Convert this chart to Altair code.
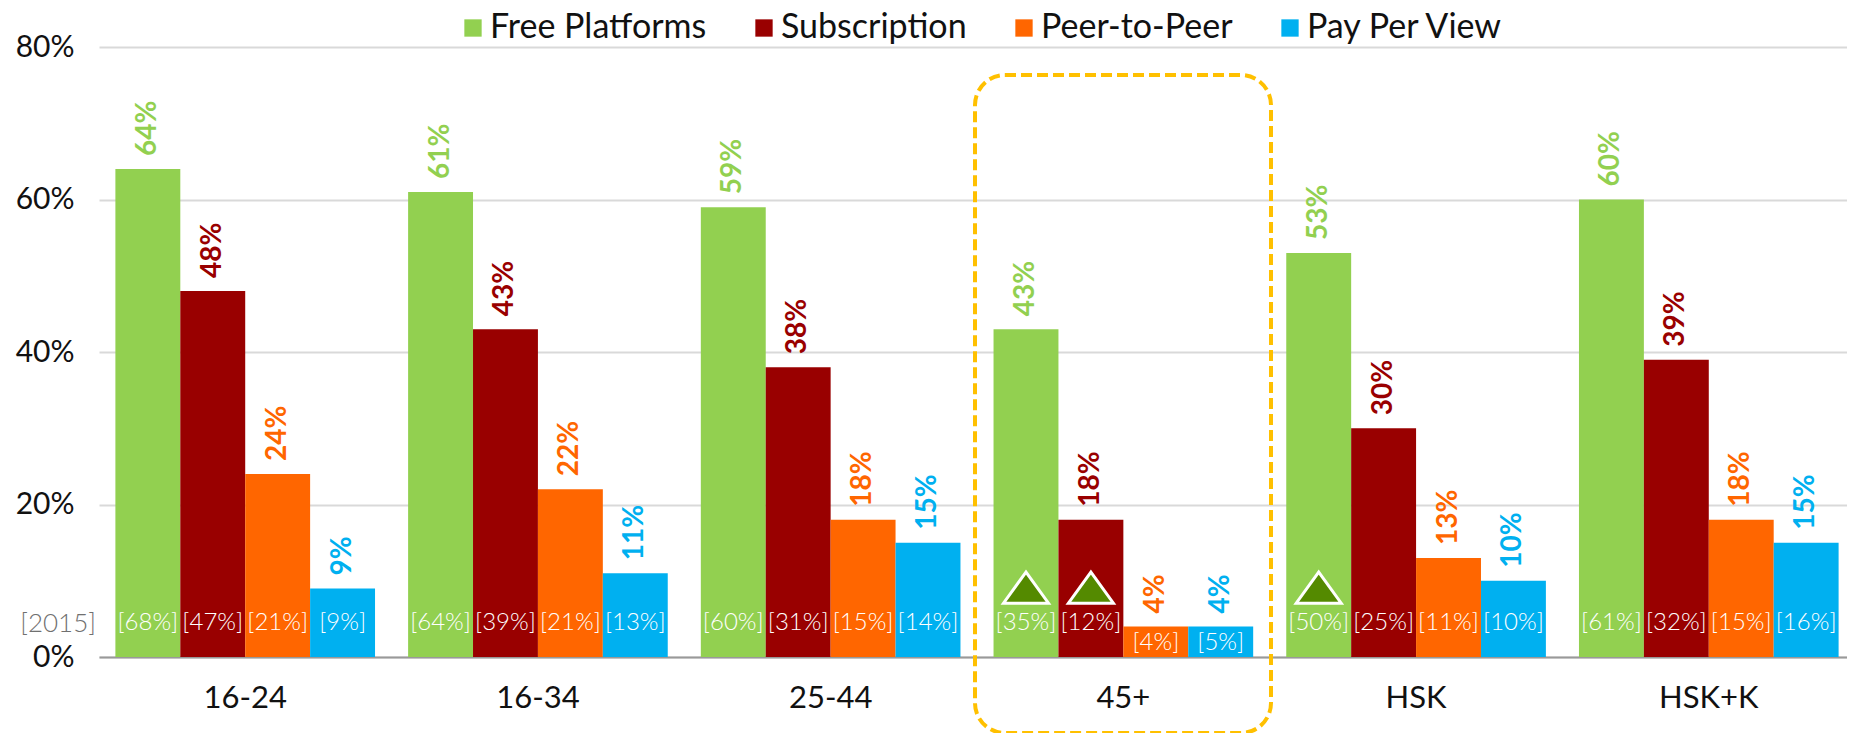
import altair as alt
import pandas as pd

groups = ["16-24", "16-34", "25-44", "45+", "HSK", "HSK+K"]
series = ["Free Platforms", "Subscription", "Peer-to-Peer", "Pay Per View"]
colors = ["#92D050", "#990000", "#FF6600", "#00B0F0"]
free_2016 = [64, 61, 59, 43, 53, 60]
sub_2016 = [48, 43, 38, 18, 30, 39]
p2p_2016 = [24, 22, 18, 4, 13, 18]
ppv_2016 = [9, 11, 15, 4, 10, 15]
free_2015 = [68, 64, 60, 35, 50, 61]
sub_2015 = [47, 39, 31, 12, 25, 32]
p2p_2015 = [21, 21, 15, 4, 11, 15]
ppv_2015 = [9, 13, 14, 5, 10, 16]
up_marks = [("45+", "Free Platforms"), ("45+", "Subscription"), ("HSK", "Free Platforms")]
FONT = "Lato"

rows = []
for s, cur, prev in zip(series,
                        [free_2016, sub_2016, p2p_2016, ppv_2016],
                        [free_2015, sub_2015, p2p_2015, ppv_2015]):
    for g, c, p in zip(groups, cur, prev):
        rows.append({"group": g, "series": s, "value": c, "prev": p,
                     "label": f"{c}%", "prev_label": f"[{p}%]",
                     "prev_y": 1.9 if c < 6 else 4.4})
df = pd.DataFrame(rows)
tri = pd.DataFrame([{"group": g, "series": s, "y": 9.1} for g, s in up_marks])

W, H = 1748, 610
x = alt.X("group:N", sort=groups, title=None,
          scale=alt.Scale(paddingInner=0.113, paddingOuter=0.056, round=False, range=[0, 1756]),
          axis=alt.Axis(labelAngle=0, labelFontSize=31, labelFont=FONT, labelColor="#111111",
                        labelPadding=26, ticks=False, domain=True, domainColor="#999999",
                        domainWidth=2))
xoff = alt.XOffset("series:N", sort=series, scale=alt.Scale(paddingInner=0, paddingOuter=0))
y = alt.Y("value:Q", title=None,
          scale=alt.Scale(domain=[0, 80], nice=False),
          axis=alt.Axis(values=[0, 20, 40, 60, 80], format=".0f", labelExpr="datum.value + '%'",
                        labelFontSize=30, labelFont=FONT, labelColor="#111111", labelPadding=25,
                        ticks=False, domain=False, grid=True, gridColor="#D9D9D9", gridWidth=2))
color = alt.Color("series:N", sort=series,
                  scale=alt.Scale(domain=series, range=colors),
                  legend=alt.Legend(orient="none", legendX=357, legendY=-36, direction="horizontal",
                                    title=None, labelFont=FONT, labelFontSize=34, labelColor="#111111",
                                    labelLimit=400, symbolType="square", symbolSize=300,
                                    symbolStrokeWidth=0, columnPadding=40, labelOffset=0, columns=4))

bars = alt.Chart(df).mark_bar().encode(x=x, xOffset=xoff, y=y, color=color)
vals = alt.Chart(df).mark_text(angle=270, align="left", baseline="middle", dx=13,
                               fontSize=28, fontWeight="bold", font=FONT).encode(
    x=x, xOffset=xoff, y=y, text="label:N",
    color=alt.Color("series:N", sort=series, scale=alt.Scale(domain=series, range=colors), legend=None))
prev = alt.Chart(df).mark_text(fontSize=24, font=FONT, fontWeight=300, color="white",
                               baseline="middle").encode(
    x=x, xOffset=xoff, y=alt.Y("prev_y:Q"), text="prev_label:N")
triangles = alt.Chart(tri).mark_point(shape="M -1 0.69 L 1 0.69 L 0 -0.69 Z", filled=True, size=2025,
                                      fill="#548A00", stroke="white", strokeWidth=3, opacity=1).encode(
    x=x, xOffset=xoff, y=alt.Y("y:Q"))
box = alt.Chart(pd.DataFrame({"a": [0]})).mark_rect(
    fill="transparent", stroke="#FFC000", strokeWidth=4, strokeDash=[11, 5], cornerRadius=30).encode(
    x=alt.value(876), x2=alt.value(1172), y=alt.value(28), y2=alt.value(686))
tag = alt.Chart(pd.DataFrame({"t": ["[2015]"], "v": [4.3]})).mark_text(
    fontSize=26, font=FONT, fontWeight=300, color="#707070", align="right", baseline="middle", dx=-3).encode(
    x=alt.value(0), y=alt.Y("v:Q"), text="t:N")

chart = alt.layer(bars, vals, prev, triangles, tag, box).properties(
    width=W, height=H,
    padding={"left": 91, "top": 39, "right": 0, "bottom": 76},
    autosize=alt.AutoSizeParams(type="none"),
).configure_view(stroke=None)

chart.save("out.html", embed_options={"renderer": "svg", "actions": False})
